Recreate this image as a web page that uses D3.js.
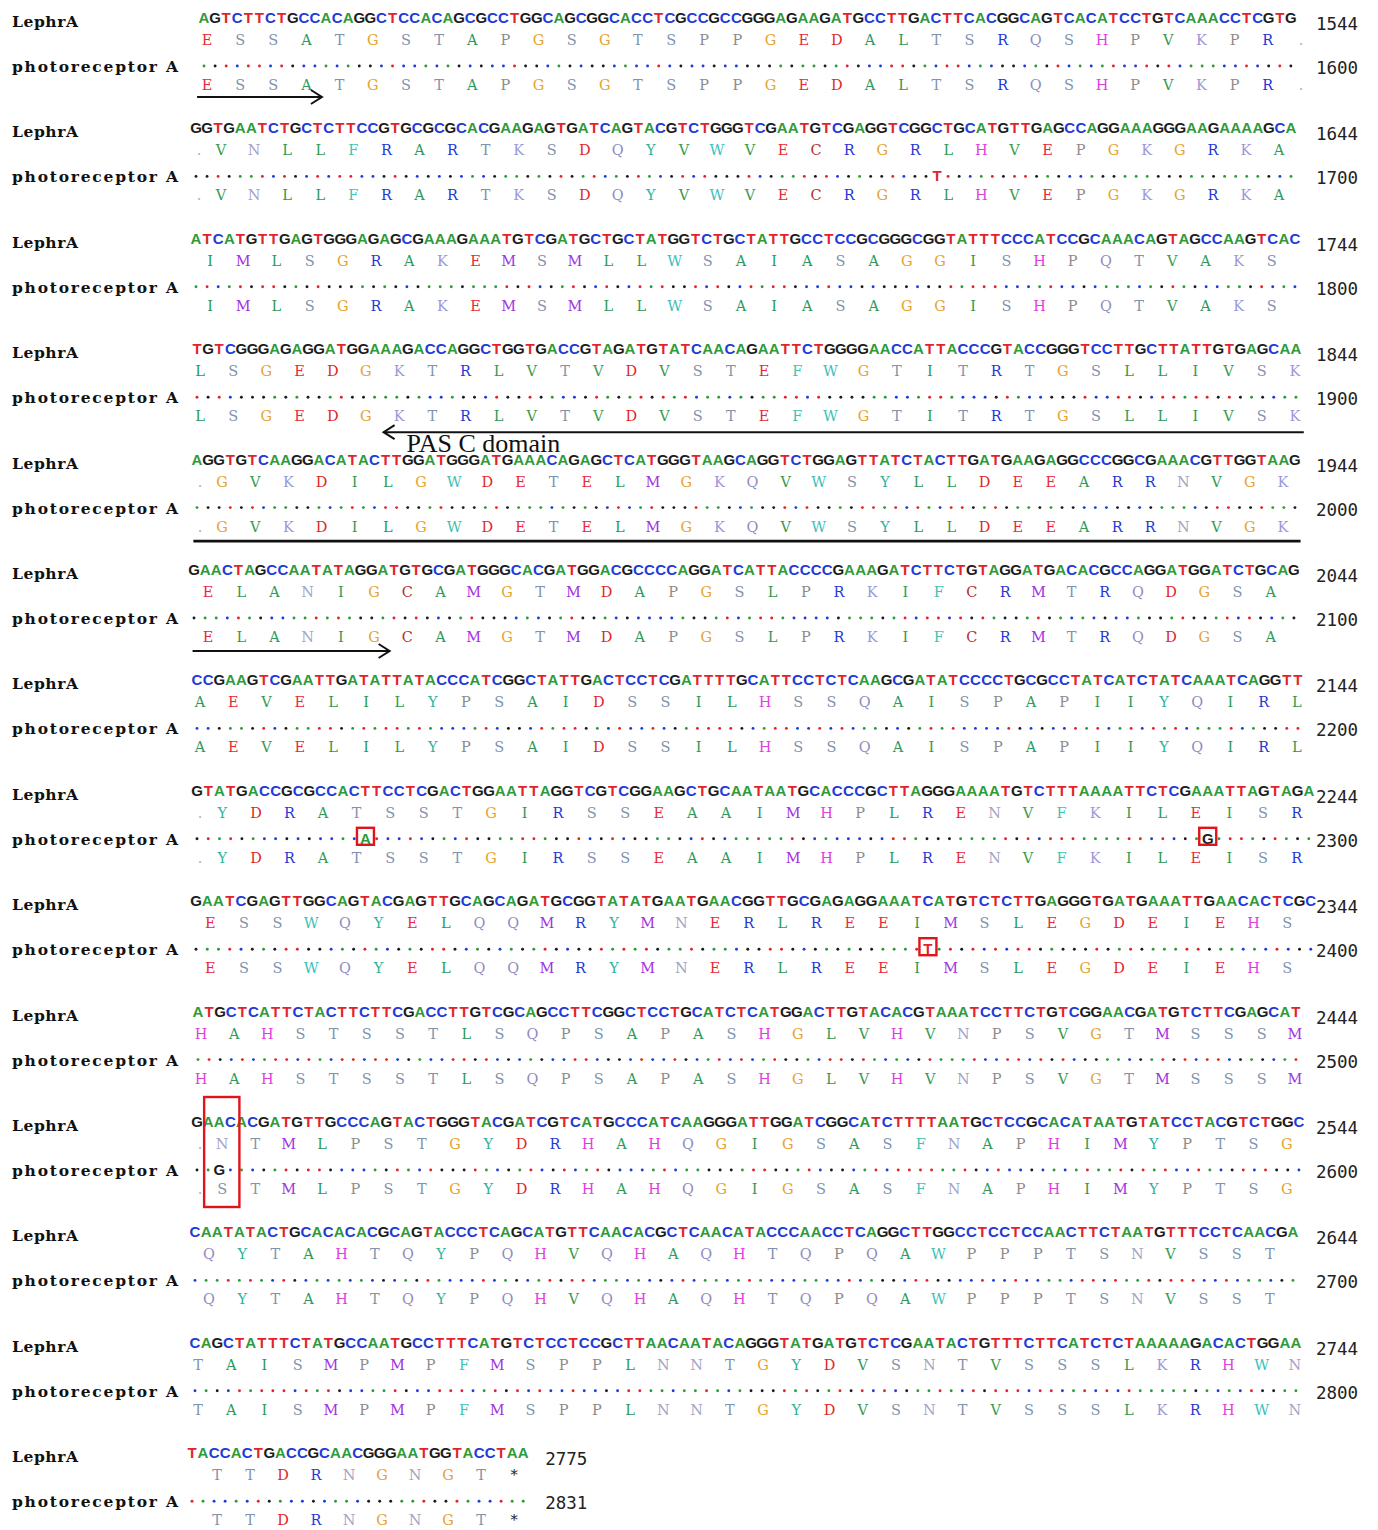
<!DOCTYPE html>
<html>
<head>
<meta charset="utf-8">
<script src="https://cdn.jsdelivr.net/npm/d3@7"></script>
<style>
  body { margin: 0; background: #fff; }
  .name { font-family: "DejaVu Serif", serif; font-weight: bold; font-size: 15.5px; fill: #111; }
  .nt { font-family: "Liberation Sans Narrow", "Liberation Sans", Arial, sans-serif; font-weight: bold; font-size: 15px; text-anchor: middle; }
  .aa { font-family: "DejaVu Serif", serif; font-size: 14.5px; text-anchor: middle; }
  .num { font-family: "DejaVu Sans Mono", monospace; font-size: 17.5px; fill: #222; }
  .sub { font-family: "Liberation Sans", Arial, sans-serif; font-weight: bold; font-size: 15px; text-anchor: middle; }
  .domain { font-family: "Liberation Serif", "Times New Roman", serif; font-size: 26px; fill: #111; }
</style>
</head>
<body>
<svg id="chart" width="1378" height="1530"></svg>
<script>
// ---- sequence data -------------------------------------------------------
const seqNames = ["LephrA", "photoreceptor A"];

// LephrA nucleotide sequence, one entry per alignment block
const lephrDNA = [
  "AGTCTTCTGCCACAGGCTCCACAGCGCCTGGCAGCGGCACCTCGCCGCCGGGAGAAGATGCCTTGACTTCACGGCAGTCACATCCTGTCAAACCTCGTG",
  "GGTGAATCTGCTCTTCCGTGCGCGCACGAAGAGTGATCAGTACGTCTGGGTCGAATGTCGAGGTCGGCTGCATGTTGAGCCAGGAAAGGGAAGAAAAGCA",
  "ATCATGTTGAGTGGGAGAGCGAAAGAAATGTCGATGCTGCTATGGTCTGCTATTGCCTCCGCGGGCGGTATTTCCCATCCGCAAACAGTAGCCAAGTCAC",
  "TGTCGGGAGAGGATGGAAAGACCAGGCTGGTGACCGTAGATGTATCAACAGAATTCTGGGGAACCATTACCCGTACCGGGTCCTTGCTTATTGTGAGCAA",
  "AGGTGTCAAGGACATACTTGGATGGGATGAAACAGAGCTCATGGGTAAGCAGGTCTGGAGTTATCTACTTGATGAAGAGGCCCGGCGAAACGTTGGTAAG",
  "GAACTAGCCAATATAGGATGTGCGATGGGCACGATGGACGCCCCAGGATCATTACCCCGAAAGATCTTCTGTAGGATGACACGCCAGGATGGATCTGCAG",
  "CCGAAGTCGAATTGATATTATACCCATCGGCTATTGACTCCTCGATTTTGCATTCCTCTCAAGCGATATCCCCTGCGCCTATCATCTATCAAATCAGGTT",
  "GTATGACCGCGCCACTTCCTCGACTGGAATTAGGTCGTCGGAAGCTGCAATAATGCACCCGCTTAGGGAAAATGTCTTTAAAATTCTCGAAATTAGTAGA",
  "GAATCGAGTTGGCAGTACGAGTTGCAGCAGATGCGGTATATGAATGAACGGTTGCGAGAGGAAATCATGTCTCTTGAGGGTGATGAAATTGAACACTCGC",
  "ATGCTCATTCTACTTCTTCGACCTTGTCGCAGCCTTCGGCTCCTGCATCTCATGGACTTGTACACGTAAATCCTTCTGTCGGAACGATGTCTTCGAGCAT",
  "GAACACGATGTTGCCCAGTACTGGGTACGATCGTCATGCCCATCAAGGGATTGGATCGGCATCTTTTAATGCTCCGCACATAATGTATCCTACGTCTGGC",
  "CAATATACTGCACACACGCAGTACCCTCAGCATGTTCAACACGCTCAACATACCCAACCTCAGGCTTGGCCTCCTCCAACTTCTAATGTTTCCTCAACGA",
  "CAGCTATTTCTATGCCAATGCCTTTCATGTCTCCTCCGCTTAACAATACAGGGTATGATGTCTCGAATACTGTTTCTTCATCTCTAAAAAGACACTGGAA",
  "TACCACTGACCGCAACGGGAATGGTACCTAA"
];

// translations; each residue sits over the middle base of its codon
const aaFirstIndex = [0, 2, 1, 0, 2, 1, 0, 2, 1, 0, 2, 1, 0, 2];
const lephrAA = [
  "ESSATGSTAPGSGTSPPGEDALTSRQSHPVKPR",
  "VNLLFRARTKSDQYVWVECRGRLHVEPGKGRKA",
  "IMLSGRAKEMSMLLWSAIASAGGISHPQTVAKS",
  "LSGEDGKTRLVTVDVSTEFWGTITRTGSLLIVSK",
  "GVKDILGWDETELMGKQVWSYLLDEEARRNVGK",
  "ELANIGCAMGTMDAPGSLPRKIFCRMTRQDGSA",
  "AEVELILYPSAIDSSILHSSQAISPAPIIYQIRL",
  "YDRATSSTGIRSSEAAIMHPLRENVFKILEISR",
  "ESSWQYELQQMRYMNERLREEIMSLEGDEIEHS",
  "HAHSTSSTLSQPSAPASHGLVHVNPSVGTMSSSM",
  "NTMLPSTGYDRHAHQGIGSASFNAPHIMYPTSG",
  "QYTAHTQYPQHVQHAQHTQPQAWPPPTSNVSST",
  "TAISMPMPFMSPPLNNTGYDVSNTVSSSLKRHWN",
  "TTDRNGNGT*"
];
const photoAA = [
  "ESSATGSTAPGSGTSPPGEDALTSRQSHPVKPR",
  "VNLLFRARTKSDQYVWVECRGRLHVEPGKGRKA",
  "IMLSGRAKEMSMLLWSAIASAGGISHPQTVAKS",
  "LSGEDGKTRLVTVDVSTEFWGTITRTGSLLIVSK",
  "GVKDILGWDETELMGKQVWSYLLDEEARRNVGK",
  "ELANIGCAMGTMDAPGSLPRKIFCRMTRQDGSA",
  "AEVELILYPSAIDSSILHSSQAISPAPIIYQIRL",
  "YDRATSSTGIRSSEAAIMHPLRENVFKILEISR",
  "ESSWQYELQQMRYMNERLREEIMSLEGDEIEHS",
  "HAHSTSSTLSQPSAPASHGLVHVNPSVGTMSSSM",
  "STMLPSTGYDRHAHQGIGSASFNAPHIMYPTSG",
  "QYTAHTQYPQHVQHAQHTQPQAWPPPTSNVSST",
  "TAISMPMPFMSPPLNNTGYDVSNTVSSSLKRHWN",
  "TTDRNGNGT*"
];

// codons split across block boundaries: [block, base index]
const splitCodons = [[0, 99], [1, 0], [4, 0], [7, 0], [10, 0]];

// end coordinates printed at the right of each block
const lephrEnd = [1544, 1644, 1744, 1844, 1944, 2044, 2144, 2244, 2344, 2444, 2544, 2644, 2744, 2775];
const photoEnd = [1600, 1700, 1800, 1900, 2000, 2100, 2200, 2300, 2400, 2500, 2600, 2700, 2800, 2831];

// bases where photoreceptor A differs from LephrA
const substitutions = [
  { block: 1, pos: 67, base: "T" },
  { block: 7, pos: 15, base: "A" },
  { block: 7, pos: 90, base: "G" },
  { block: 8, pos: 65, base: "T" },
  { block: 10, pos: 2, base: "G" }
];
const boxedSubs = [[7, 15], [7, 90], [8, 65]];
// codon with an amino-acid change (N -> S)
const boxedCodon = { block: 10, from: 1, to: 3 };

// domain annotations (positions in bases)
const arrows = [
  { block: 0, from: -0.9, to: 10.4, dy: 97, dir: "right" },
  { block: 3, from: 99.8, to: 16.6, dy: 101, dir: "left", label: "PAS C domain" },
  { block: 4, from: -0.6, to: 99.6, dy: 99.5, dir: "none" },
  { block: 5, from: -0.4, to: 17.4, dy: 99, dir: "right" }
];

// ---- styling ---------------------------------------------------------------
const ntColor = { A: "#2f9a3a", C: "#1f3bd8", G: "#1c1c1c", T: "#e2232b" };
const aaColor = {
  A: "#2f9a5c", C: "#b3302e", D: "#e02626", E: "#e8283a", F: "#3cc4b4",
  G: "#e6a42e", H: "#e040e0", I: "#2e9a55", K: "#9b98d8", L: "#2e9a55",
  M: "#a233e0", N: "#a3a3c6", P: "#8c8c8c", Q: "#8f8cbf", R: "#2438d6",
  S: "#7f93ad", T: "#7f93ad", V: "#3a9a50", W: "#3cc0b8", Y: "#2fb39c",
  "*": "#222", ".": "#b0b0b0"
};

const BLOCK = 110.4;
const rowX0 = [207, 199, 199, 200, 200, 197, 200, 200, 199, 201, 200, 198, 198, 195];
const rowPitch = [11.05, 11.02, 11.06, 11.06, 11.05, 11.07, 11.08, 11.19, 11.22, 11.05, 11.09, 11.05, 11.08, 11.0];

const svg = d3.select("#chart");
svg.append("rect").attr("width", 1378).attr("height", 1530).attr("fill", "#fff");

const aaScale = r => d3.scaleLinear().domain([0, 99]).range([rowX0[r], rowX0[r] + 99 * rowPitch[r]]);
const ntScale = r => d3.scaleLinear().domain([0, 99]).range([rowX0[r] - 3, rowX0[r] + 99 * rowPitch[r] + 1]);
const nameWidth = { "LephrA": 66, "photoreceptor A": 166 };

lephrDNA.forEach((dna, r) => {
  const top = r * BLOCK;
  const xa = aaScale(r), xn = ntScale(r);
  const g = svg.append("g").attr("class", "block");

  [[seqNames[0], top + 27], [seqNames[1], top + 72]].forEach(([name, y]) => {
    g.append("text").attr("class", "name").attr("x", 12).attr("y", y)
      .attr("textLength", nameWidth[name]).attr("lengthAdjust", "spacing").text(name);
  });

  const bases = dna.split("").map((c, i) => ({ c, i }));

  // LephrA nucleotides
  g.selectAll("text.nt").data(bases).join("text")
    .attr("class", "nt")
    .attr("x", d => xn(d.i)).attr("y", top + 23)
    .attr("fill", d => ntColor[d.c]).text(d => d.c);

  // identity dots for photoreceptor A, substitutions drawn as letters
  const subsHere = substitutions.filter(s => s.block === r);
  const subPos = new Set(subsHere.map(s => s.pos));
  g.selectAll("circle.dot").data(bases.filter(d => !subPos.has(d.i))).join("circle")
    .attr("class", "dot")
    .attr("cx", d => xn(d.i)).attr("cy", top + 66).attr("r", 1.45)
    .attr("fill", d => ntColor[d.c]);
  g.selectAll("text.sub").data(subsHere).join("text")
    .attr("class", "sub")
    .attr("x", d => xn(d.pos)).attr("y", top + 71)
    .attr("fill", d => ntColor[d.base]).text(d => d.base);

  // amino-acid rows
  const aaRow = (str, y) => {
    const res = str.split("").map((c, k) => ({ c, i: aaFirstIndex[r] + 3 * k }));
    splitCodons.filter(s => s[0] === r).forEach(s => res.push({ c: ".", i: s[1] }));
    return res.map(d => Object.assign({ y }, d));
  };
  const aaData = aaRow(lephrAA[r], top + 45).concat(aaRow(photoAA[r], top + 90));
  g.selectAll("text.aa").data(aaData).join("text")
    .attr("class", "aa")
    .attr("x", d => xa(d.i)).attr("y", d => d.y)
    .attr("fill", d => aaColor[d.c]).text(d => d.c);

  // coordinates
  const short = dna.length < 90;
  const numX = short ? xn(dna.length - 1) + 22 : 1316;
  g.append("text").attr("class", "num").attr("x", numX).attr("y", top + 30).text(lephrEnd[r]);
  g.append("text").attr("class", "num").attr("x", numX).attr("y", top + 74).text(photoEnd[r]);
});

// red boxes around substitutions
boxedSubs.forEach(([r, pos]) => {
  const x = ntScale(r)(pos);
  svg.append("rect")
    .attr("x", x - 8.5).attr("y", r * BLOCK + 55)
    .attr("width", 17).attr("height", 17)
    .attr("fill", "none").attr("stroke", "#e0141b").attr("stroke-width", 2.4);
});
{
  const r = boxedCodon.block, xs = ntScale(r);
  svg.append("rect")
    .attr("x", xs(boxedCodon.from) - 4).attr("y", r * BLOCK - 7)
    .attr("width", xs(boxedCodon.to) - xs(boxedCodon.from) + 13).attr("height", 110)
    .attr("fill", "none").attr("stroke", "#e0141b").attr("stroke-width", 2.4);
}

// domain arrows and underline
arrows.forEach(a => {
  const xs = aaScale(a.block);
  const y = a.block * BLOCK + a.dy;
  const x1 = xs(a.from), x2 = xs(a.to);
  svg.append("line").attr("x1", x1).attr("x2", x2).attr("y1", y).attr("y2", y)
    .attr("stroke", "#111").attr("stroke-width", a.dir === "none" ? 2.6 : 2);
  if (a.dir !== "none") {
    const s = a.dir === "right" ? -1 : 1;
    svg.append("path")
      .attr("d", d3.line()([[x2 + s * 11, y - 7], [x2, y], [x2 + s * 11, y + 7]]))
      .attr("fill", "none").attr("stroke", "#111").attr("stroke-width", 2);
  }
  if (a.label) {
    svg.append("text").attr("class", "domain")
      .attr("x", x2 + 23).attr("y", y + 20).text(a.label);
  }
});
</script>
</body>
</html>
